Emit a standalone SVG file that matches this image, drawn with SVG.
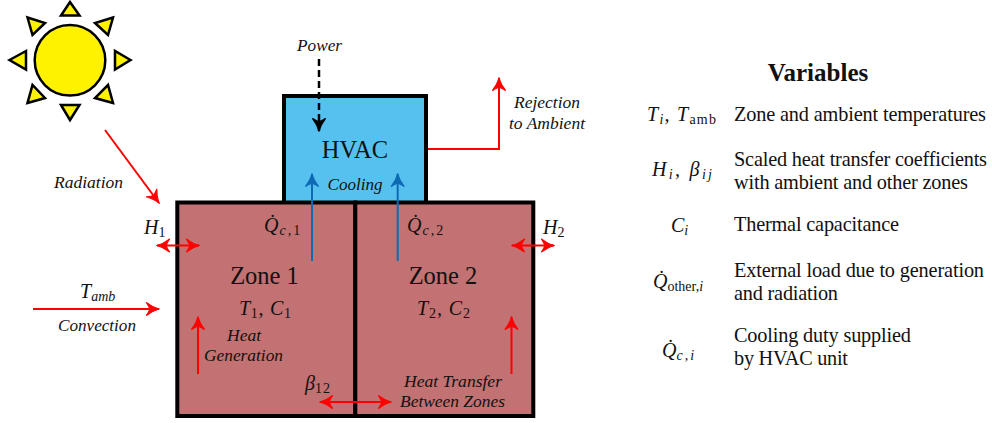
<svg xmlns="http://www.w3.org/2000/svg" width="992" height="423" viewBox="0 0 992 423">
<style>
text{font-family:"Liberation Serif","Times New Roman",serif;fill:#111}
.i{font-style:italic;font-size:17px;text-anchor:middle}
.m{font-style:italic;font-size:20px}
.s{font-size:14px}
.t{font-size:20.300px}
.z{font-size:24.500px;text-anchor:middle}
.box{stroke:#000;stroke-width:4}
.ray{fill:#fff200;stroke:#000;stroke-width:2.500;stroke-linejoin:miter}
.r{fill:none;stroke:#f00;stroke-width:2}
.b{fill:none;stroke:#0f6ab4;stroke-width:2}
</style>
<defs>
<marker id="ar" markerUnits="userSpaceOnUse" markerWidth="16" markerHeight="16" refX="11" refY="6" orient="auto-start-reverse" viewBox="0 0 12 12"><path d="M11 6C8 6.800 5 8.300 1.500 11C3 8.500 3.800 7.200 4 6C3.800 4.800 3 3.500 1.500 1C5 3.700 8 5.200 11 6Z" fill="#f00" stroke="#f00" stroke-width=".8"/></marker>
<marker id="ab" markerUnits="userSpaceOnUse" markerWidth="16" markerHeight="16" refX="11" refY="6" orient="auto" viewBox="0 0 12 12"><path d="M11 6C8 6.800 5 8.300 1.500 11C3 8.500 3.800 7.200 4 6C3.800 4.800 3 3.500 1.500 1C5 3.700 8 5.200 11 6Z" fill="#0f6ab4" stroke="#0f6ab4" stroke-width=".8"/></marker>
<marker id="ak" markerUnits="userSpaceOnUse" markerWidth="16" markerHeight="16" refX="11" refY="6" orient="auto" viewBox="0 0 12 12"><path d="M11 6C8 6.800 5 8.300 1.500 11C3 8.500 3.800 7.200 4 6C3.800 4.800 3 3.500 1.500 1C5 3.700 8 5.200 11 6Z" fill="#000" stroke="#000" stroke-width=".8"/></marker>
</defs>
<g id="sun">
<circle cx="70" cy="60.300" r="35.300" fill="#fff200" stroke="#000" stroke-width="2.500"/>
<polygon class="ray" points="70,2 61,15.500 79.500,15.500"/>
<polygon class="ray" points="70,120 61,105 79.500,105"/>
<polygon class="ray" points="9.500,60 26,51 26,69.500"/>
<polygon class="ray" points="130.500,60 115,51 115,69.500"/>
<polygon class="ray" points="27.500,17.500 45,23 32.500,35"/>
<polygon class="ray" points="113,17.500 95,23 108,35"/>
<polygon class="ray" points="27.500,103 45,98 32.500,85"/>
<polygon class="ray" points="113,103 95,98 108,85"/>
</g>
<g id="hvac">
<rect class="box" x="284" y="96" width="142" height="107" fill="#56c1ee"/>
<text x="355" y="158" class="z">HVAC</text>
<text x="355" y="190" class="i" textLength="55" lengthAdjust="spacingAndGlyphs">Cooling</text>
</g>
<g id="zone1">
<rect class="box" x="177.300" y="202.500" width="178" height="213.500" fill="#c27272"/>
<text x="264.500" y="284" class="z">Zone 1</text>
<text x="239" y="315" class="m" textLength="52" lengthAdjust="spacing">T<tspan class="s" dy="3" font-style="normal">1</tspan><tspan dy="-3">, C</tspan><tspan class="s" dy="3" font-style="normal">1</tspan></text>
<text x="244" y="341" class="i" textLength="34" lengthAdjust="spacingAndGlyphs">Heat</text>
<text x="243.500" y="361" class="i" textLength="79" lengthAdjust="spacingAndGlyphs">Generation</text>
<text x="264" y="232" class="m">Q&#775;<tspan class="s" dx="1" dy="3" letter-spacing="2">c,</tspan><tspan class="s" font-style="normal">1</tspan></text>
<text x="305" y="390" class="m">β<tspan class="s" dy="3" font-style="normal" letter-spacing="1">12</tspan></text>
</g>
<g id="zone2">
<rect class="box" x="355.300" y="202.500" width="178" height="213.500" fill="#c27272"/>
<text x="443" y="284" class="z">Zone 2</text>
<text x="417" y="315" class="m" textLength="53" lengthAdjust="spacing">T<tspan class="s" dy="3" font-style="normal">2</tspan><tspan dy="-3">, C</tspan><tspan class="s" dy="3" font-style="normal">2</tspan></text>
<text x="407" y="232" class="m">Q&#775;<tspan class="s" dx="1" dy="3" letter-spacing="2">c,</tspan><tspan class="s" font-style="normal">2</tspan></text>
<text x="453" y="387" class="i" textLength="98" lengthAdjust="spacingAndGlyphs">Heat Transfer</text>
<text x="452.500" y="407" class="i" textLength="105" lengthAdjust="spacingAndGlyphs">Between Zones</text>
</g>
<g id="connectors">
<path class="r" d="M105 130L159 203" marker-end="url(#ar)"/>
<path class="r" d="M428 149H499V78" marker-end="url(#ar)"/>
<path class="r" d="M157 245.500H199" marker-start="url(#ar)" marker-end="url(#ar)"/>
<path class="r" d="M512 245.500H554" marker-start="url(#ar)" marker-end="url(#ar)"/>
<path class="r" d="M33 309H159" marker-end="url(#ar)"/>
<path class="r" d="M198 374V317" marker-end="url(#ar)"/>
<path class="r" d="M511.500 374V317" marker-end="url(#ar)"/>
<path class="r" d="M320 402H391" marker-start="url(#ar)" marker-end="url(#ar)"/>
<path class="b" d="M312 261V174" marker-end="url(#ab)"/>
<path class="b" d="M397.700 261V174" marker-end="url(#ab)"/>
<path d="M319 59V131" fill="none" stroke="#000" stroke-width="2.500" stroke-dasharray="7 4" marker-end="url(#ak)"/>
</g>
<g id="labels">
<text x="319.500" y="51" class="i" textLength="45" lengthAdjust="spacingAndGlyphs">Power</text>
<text x="547" y="108" class="i" textLength="66" lengthAdjust="spacingAndGlyphs">Rejection</text>
<text x="547" y="129" class="i" textLength="76" lengthAdjust="spacingAndGlyphs">to Ambient</text>
<text x="88.500" y="188" class="i" textLength="69" lengthAdjust="spacingAndGlyphs">Radiation</text>
<text x="97" y="331" class="i" textLength="78" lengthAdjust="spacingAndGlyphs">Convection</text>
<text x="80" y="298" class="m">T<tspan class="s" dy="3">amb</tspan></text>
<text x="144" y="234" class="m">H<tspan class="s" dy="3" font-style="normal">1</tspan></text>
<text x="543" y="234" class="m">H<tspan class="s" dy="3" font-style="normal">2</tspan></text>
</g>
<g id="variables">
<text x="818" y="81" font-size="25" font-weight="bold" text-anchor="middle" fill="#000">Variables</text>
<text x="647" y="121" class="m" textLength="69" lengthAdjust="spacing">T<tspan class="s" dy="3">i</tspan><tspan dy="-3">, T</tspan><tspan class="s" dy="3" font-style="normal">amb</tspan></text>
<text x="734" y="121" class="t" textLength="252">Zone and ambient temperatures</text>
<text x="652" y="176" class="m" textLength="60" lengthAdjust="spacing">H<tspan class="s" dy="3">i</tspan><tspan dy="-3">, β</tspan><tspan class="s" dy="3">ij</tspan></text>
<text x="734" y="166" class="t" textLength="253">Scaled heat transfer coefficients</text>
<text x="734" y="189" class="t" textLength="234">with ambient and other zones</text>
<text x="671" y="232" class="m">C<tspan class="s" dy="3">i</tspan></text>
<text x="734" y="231" class="t" textLength="165">Thermal capacitance</text>
<text x="653" y="288" class="m">Q&#775;<tspan class="s" dy="3" font-style="normal">other,</tspan><tspan class="s">i</tspan></text>
<text x="734" y="277" class="t" textLength="250">External load due to generation</text>
<text x="734" y="300" class="t" textLength="104">and radiation</text>
<text x="662" y="357" class="m">Q&#775;<tspan class="s" dy="3" letter-spacing="2">c,i</tspan></text>
<text x="734" y="342" class="t" textLength="177">Cooling duty supplied</text>
<text x="734" y="365" class="t" textLength="114">by HVAC unit</text>
</g>
</svg>
